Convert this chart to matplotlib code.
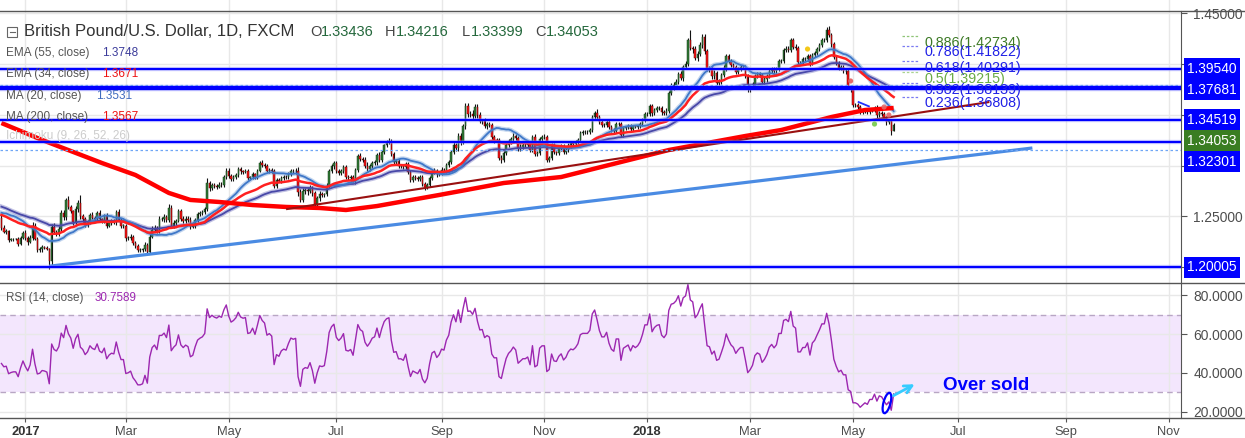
import numpy as np
import pandas as pd
import matplotlib
matplotlib.use("Agg")
import matplotlib.pyplot as plt
import matplotlib.transforms as mtransforms
from matplotlib.patches import Ellipse, Rectangle
from matplotlib.lines import Line2D

plt.rcParams['font.family'] = ['Liberation Sans', 'DejaVu Sans']

# ---------------- data ----------------
# hidden closes before the first visible bar (feed MA20 / RSI warm-up)
closes_before = [1.2475, 1.2370, 1.2455, 1.2480, 1.2385, 1.2475, 1.2500, 1.2585, 1.2590, 1.2730,
                 1.2680, 1.2610, 1.2580, 1.2560, 1.2660, 1.2730, 1.2580, 1.2420, 1.2485]

# daily closes, 2016-12-19 .. 2018-05-24 (weekdays)
closes = [
    1.2390, 1.2350, 1.2355, 1.2265, 1.2275, 1.2280, 1.2280, 1.2230, 1.2290, 1.2340,
    1.2290, 1.2250, 1.2290, 1.2410, 1.2280, 1.2170, 1.2175, 1.2195, 1.2190, 1.2180, 1.2060, 1.2400, 1.2345, 1.2330, 1.2375, 1.2535, 1.2495, 1.2665, 1.2590, 1.2550, 1.2450, 1.2570,
    1.2630, 1.2500, 1.2475, 1.2420, 1.2450, 1.2515, 1.2490, 1.2480, 1.2535, 1.2475, 1.2460, 1.2500, 1.2410, 1.2440, 1.2455, 1.2450, 1.2545, 1.2470, 1.2410, 1.2410,
    1.2285, 1.2290, 1.2300, 1.2240, 1.2210, 1.2170, 1.2170, 1.2175, 1.2215, 1.2150, 1.2300, 1.2370, 1.2390, 1.2360, 1.2475, 1.2475, 1.2495, 1.2470, 1.2580, 1.2410, 1.2440, 1.2460, 1.2550,
    1.2480, 1.2460, 1.2480, 1.2470, 1.2400, 1.2410, 1.2470, 1.2520, 1.2535, 1.2545, 1.2570, 1.2830, 1.2780, 1.2810, 1.2800, 1.2795, 1.2815, 1.2810, 1.2890, 1.2950,
    1.2900, 1.2870, 1.2885, 1.2910, 1.2965, 1.2945, 1.2940, 1.2945, 1.2880, 1.2885, 1.2915, 1.2890, 1.2950, 1.3030, 1.3010, 1.3000, 1.2950, 1.2960, 1.2950, 1.2805, 1.2860, 1.2850, 1.2880,
    1.2890, 1.2885, 1.2920, 1.2950, 1.2945, 1.2950, 1.2745, 1.2660, 1.2750, 1.2760, 1.2755, 1.2785, 1.2730, 1.2625, 1.2680, 1.2720, 1.2715, 1.2720, 1.2800, 1.2945, 1.3000, 1.3025,
    1.2950, 1.2930, 1.2950, 1.2985, 1.2885, 1.2880, 1.2890, 1.2855, 1.2960, 1.3100, 1.3070, 1.3060, 1.2995, 1.2970, 1.2995, 1.3030, 1.3040, 1.3110, 1.3060, 1.3135, 1.3200,
    1.3230, 1.3240, 1.3120, 1.3040, 1.3045, 1.2995, 1.2995, 1.2985, 1.3020, 1.2940, 1.2860, 1.2890, 1.2880, 1.2870, 1.2890, 1.2820, 1.2790, 1.2810, 1.2880, 1.2940, 1.2950, 1.2915, 1.2930,
    1.2960, 1.2955, 1.3010, 1.3040, 1.3135, 1.3200, 1.3170, 1.3290, 1.3230, 1.3395, 1.3590, 1.3505, 1.3510, 1.3490, 1.3580, 1.3500, 1.3440, 1.3445, 1.3390, 1.3410, 1.3400,
    1.3280, 1.3250, 1.3250, 1.3080, 1.3060, 1.3130, 1.3200, 1.3240, 1.3260, 1.3290, 1.3270, 1.3170, 1.3185, 1.3200, 1.3200, 1.3210, 1.3160, 1.3280, 1.3120, 1.3130, 1.3260, 1.3280,
    1.3280, 1.3060, 1.3075, 1.3200, 1.3135, 1.3130, 1.3170, 1.3190, 1.3140, 1.3160, 1.3200, 1.3220, 1.3215, 1.3230, 1.3255, 1.3320, 1.3330, 1.3330, 1.3330, 1.3350, 1.3480, 1.3520,
    1.3480, 1.3430, 1.3400, 1.3400, 1.3430, 1.3380, 1.3350, 1.3340, 1.3410, 1.3410, 1.3300, 1.3370, 1.3380, 1.3390, 1.3360, 1.3390, 1.3380, 1.3390, 1.3410, 1.3450, 1.3510,
    1.3510, 1.3590, 1.3520, 1.3550, 1.3565, 1.3570, 1.3530, 1.3520, 1.3540, 1.3720, 1.3790, 1.3800, 1.3830, 1.3900, 1.3860, 1.3970, 1.4000, 1.4240, 1.4160, 1.4150, 1.4060, 1.4100, 1.4190,
    1.4270, 1.4130, 1.3960, 1.3950, 1.3880, 1.3910, 1.3820, 1.3830, 1.3890, 1.3960, 1.4080, 1.4030, 1.3990, 1.3970, 1.3920, 1.3950, 1.3970, 1.3970, 1.3880, 1.3760,
    1.3780, 1.3810, 1.3880, 1.3900, 1.3890, 1.3830, 1.3850, 1.3880, 1.3930, 1.3950, 1.3930, 1.3950, 1.4030, 1.4030, 1.4140, 1.4150, 1.4140, 1.4240, 1.4170, 1.4160, 1.4020, 1.4020,
    1.4050, 1.4050, 1.4080, 1.4010, 1.4090, 1.4110, 1.4150, 1.4190, 1.4240, 1.4240, 1.4340, 1.4290, 1.4200, 1.4070, 1.4010, 1.3960, 1.3970, 1.3930, 1.3930, 1.3780, 1.3760,
    1.3600, 1.3600, 1.3580, 1.3530, 1.3540, 1.3550, 1.3530, 1.3550, 1.3550, 1.3570, 1.3500, 1.3520, 1.3510, 1.3470, 1.3430, 1.3440, 1.33436, 1.34053,
]

# wick length beyond the body, in pips
wick_up = [
    40, 25, 20, 15, 10, 8, 12, 15, 20, 18,
    30, 20, 25, 35, 30, 15, 20, 25, 15, 20, 10, 30, 40, 20, 30, 30, 25, 20, 41, 20, 15, 30,
    30, 77, 25, 20, 15, 20, 25, 15, 20, 25, 15, 20, 30, 15, 25, 20, 15, 30, 20, 15,
    20, 20, 25, 15, 20, 15, 20, 15, 30, 20, 30, 40, 30, 20, 30, 20, 25, 20, 45, 30, 25, 20, 25,
    25, 20, 20, 20, 25, 20, 20, 25, 15, 15, 20, 45, 20, 20, 20, 25, 20, 25, 20, 25,
    30, 20, 25, 20, 25, 20, 15, 20, 20, 15, 20, 15, 20, 20, 25, 20, 20, 15, 20, 15, 20, 15, 20,
    20, 15, 20, 20, 20, 30, 40, 30, 30, 20, 20, 25, 20, 20, 25, 30, 20, 15, 30, 25, 20, 25,
    25, 20, 15, 20, 20, 20, 20, 15, 20, 20, 30, 20, 25, 40, 20, 20, 20, 20, 25, 20, 15,
    25, 30, 20, 20, 20, 25, 20, 20, 20, 20, 20, 15, 20, 15, 20, 20, 15, 20, 20, 20, 25, 20, 20,
    25, 20, 20, 20, 20, 30, 20, 30, 30, 20, 25, 30, 30, 40, 30, 30, 25, 20, 25, 20, 20,
    25, 20, 20, 20, 30, 20, 25, 20, 20, 30, 20, 20, 25, 25, 20, 25, 20, 20, 30, 20, 20, 20,
    30, 25, 20, 20, 20, 15, 20, 20, 20, 20, 20, 20, 20, 20, 20, 20, 20, 20, 20, 20, 20, 15,
    40, 20, 20, 20, 20, 20, 20, 20, 20, 25, 20, 20, 15, 20, 20, 15, 10, 15, 20, 20, 20,
    15, 20, 20, 20, 20, 20, 20, 20, 30, 20, 25, 30, 25, 20, 30, 20, 30, 20, 100, 20, 25, 30, 30,
    30, 25, 20, 25, 30, 30, 20, 20, 20, 30, 25, 20, 20, 20, 25, 20, 20, 25, 20, 20,
    20, 20, 20, 20, 20, 20, 20, 20, 20, 20, 20, 20, 20, 25, 20, 25, 25, 20, 20, 25, 20, 15,
    20, 20, 20, 20, 20, 20, 20, 20, 20, 20, 30, 36, 20, 20, 20, 20, 20, 20, 20, 20, 20,
    30, 20, 20, 20, 20, 20, 20, 20, 20, 20, 25, 20, 20, 20, 20, 20, 25, 16,
]
wick_dn = [
    20, 15, 25, 18, 10, 12, 15, 20, 12, 14,
    20, 30, 15, 20, 10, 20, 20, 25, 15, 15, 75, 45, 20, 25, 20, 20, 25, 30, 15, 20, 30, 25,
    30, 20, 30, 25, 20, 25, 15, 20, 15, 30, 25, 20, 20, 15, 20, 25, 30, 15, 20, 25,
    30, 20, 25, 20, 20, 20, 15, 20, 15, 30, 20, 15, 20, 20, 20, 15, 25, 20, 20, 25, 20, 20, 15,
    20, 20, 25, 20, 25, 15, 20, 20, 15, 20, 20, 20, 25, 20, 15, 20, 15, 15, 20, 20,
    20, 25, 20, 15, 20, 25, 20, 15, 25, 20, 15, 20, 20, 15, 20, 20, 15, 20, 20, 20, 20, 15, 20,
    20, 20, 15, 20, 20, 25, 45, 20, 20, 25, 45, 20, 25, 20, 20, 25, 20, 20, 15, 20, 20, 30,
    20, 20, 25, 20, 20, 20, 30, 20, 30, 20, 20, 25, 20, 20, 20, 20, 20, 30, 20, 20, 20,
    20, 20, 25, 20, 20, 20, 20, 20, 20, 25, 25, 20, 20, 20, 20, 20, 25, 20, 20, 20, 20, 25, 20,
    20, 20, 25, 20, 25, 20, 25, 20, 25, 20, 30, 25, 20, 30, 20, 30, 20, 25, 20, 25, 20,
    20, 25, 20, 25, 35, 20, 20, 20, 25, 20, 20, 25, 20, 20, 20, 20, 20, 20, 20, 25, 20, 25,
    20, 25, 25, 20, 20, 20, 20, 20, 20, 20, 20, 25, 20, 20, 20, 20, 20, 20, 20, 20, 20, 25,
    25, 20, 20, 20, 20, 20, 20, 25, 20, 20, 20, 20, 20, 20, 20, 20, 10, 15, 20, 20, 20,
    15, 20, 25, 20, 20, 20, 30, 20, 20, 20, 20, 40, 20, 25, 20, 25, 20, 20, 20, 40, 20, 25, 20,
    30, 30, 30, 25, 30, 30, 25, 20, 25, 20, 30, 20, 20, 20, 20, 20, 20, 20, 20, 30,
    30, 20, 20, 20, 20, 25, 20, 20, 20, 20, 20, 20, 20, 20, 20, 20, 20, 20, 20, 20, 20, 15,
    20, 20, 20, 25, 20, 20, 20, 20, 20, 20, 20, 20, 30, 20, 20, 20, 20, 20, 25, 20, 30,
    20, 20, 20, 25, 20, 20, 25, 20, 20, 20, 25, 20, 20, 20, 25, 20, 40, 3.7,
]

# EMA values at the first visible bar
ema55_start = 1.2597
ema34_start = 1.2515

# MA(200)
ma200_dates = ['2016-12-19', '2017-01-11', '2017-02-15', '2017-03-07', '2017-03-27', '2017-04-07',
               '2017-04-25', '2017-05-15', '2017-06-02', '2017-06-22', '2017-07-07', '2017-07-26',
               '2017-08-31', '2017-10-09', '2017-11-10', '2018-01-12', '2018-02-27', '2018-03-20',
               '2018-04-18', '2018-05-08', '2018-05-24']
ma200_vals = [1.3421, 1.3254, 1.3027, 1.2909, 1.2732, 1.2663, 1.2643, 1.2613, 1.2594, 1.2584,
              1.2564, 1.2603, 1.2712, 1.2830, 1.2889, 1.3155, 1.3293, 1.3352, 1.3480, 1.3549, 1.3569]

# horizontal support / resistance lines
levels = [1.39540, 1.37681, 1.34519, 1.32301, 1.20005]
dotted_levels = [1.3795, 1.3155]

# trend lines (date, price)
trend_blue = [('2017-01-16', 1.2010), ('2018-08-14', 1.3175)]
trend_red = [('2017-06-02', 1.2572), ('2018-07-19', 1.3628)]
short_blue = [('2018-05-03', 1.3631), ('2018-05-10', 1.3582)]

# small markers
dot_dates = ['2018-04-04', '2018-04-30', '2018-05-18', '2018-05-22', '2018-05-14']
dot_prices = [1.4150, 1.3835, 1.3579, 1.3500, 1.3411]
dot_colors = ['#f2c200', '#e25a5a', '#e36a6a', '#e36a6a', '#74c94a']

# fibonacci retracement
fib_ratios = [0.886, 0.786, 0.618, 0.5, 0.382, 0.236]
fib_prices = [1.42734, 1.41822, 1.40291, 1.39215, 1.38139, 1.36808]

# price-axis ticks; the ones covered by tags show no text
price_ticks = [1.20, 1.25, 1.30, 1.35, 1.40, 1.45]
price_tick_text = ['', '1.25000', '', '', '', '1.45000']

ohlc_last = ['1.33436', '1.34216', '1.33399', '1.34053']
legend_names = ['EMA (55, close)', 'EMA (34, close)', 'MA (20, close)', 'MA (200, close)']
legend_values = ['1.3748', '1.3671', '1.3531', '1.3567']
rsi_last = '30.7589'

# ---------------- derived series ----------------
n = len(closes)
assert len(wick_up) == n and len(wick_dn) == n, (n, len(wick_up), len(wick_dn))
c = np.array(closes)
o = np.r_[closes_before[-1], c[:-1]]
hi = np.maximum(o, c) + np.array(wick_up) / 1e4
lo = np.minimum(o, c) - np.array(wick_dn) / 1e4
x = np.arange(n)

axis_dates = pd.bdate_range('2016-12-19', '2018-12-31')
pos = {d: i for i, d in enumerate(axis_dates)}


def bar(d):
    return pos[pd.Timestamp(d)]


def ema(values, span, seed):
    a = 2.0 / (span + 1)
    out = [seed]
    for v in values[1:]:
        out.append(a * v + (1 - a) * out[-1])
    return np.array(out)


ema55 = ema(c, 55, ema55_start)
ema34 = ema(c, 34, ema34_start)
allc = np.r_[closes_before, c]
ma20 = pd.Series(allc).rolling(20).mean().values[len(closes_before):]

d = np.diff(allc)
g = np.clip(d, 0, None)
l = np.clip(-d, 0, None)
rsi_all = np.full(len(allc), np.nan)
ag, al = g[:14].mean(), l[:14].mean()
rsi_all[14] = 100 - 100 / (1 + ag / al)
for k in range(14, len(d)):
    ag = (ag * 13 + g[k]) / 14
    al = (al * 13 + l[k]) / 14
    rsi_all[k + 1] = 100 - 100 / (1 + ag / al)
rsi = rsi_all[len(closes_before):]

# ---------------- layout ----------------
W, H = 1245, 438
BAR_PX = 2.392
X0 = -0.6
X1 = X0 + 1181 / BAR_PX
GRID = '#e8e8e8'
AXC = '#555555'


def fx(px):
    return px / W


def fy(py):
    return 1 - py / H


fig = plt.figure(figsize=(W / 100, H / 100), dpi=100)
ax = fig.add_axes([0, fy(283), fx(1181), fy(11) - fy(283)])
ax2 = fig.add_axes([0, fy(418), fx(1181), fy(283) - fy(418)])
top = fig.add_axes([0, fy(11), fx(1181), 11 / H])

months = pd.date_range('2017-01-01', '2018-11-01', freq='2MS')
ticks = [axis_dates.searchsorted(m) for m in months]
tick_labels = [str(m.year) if m.month == 1 else m.strftime('%b') for m in months]

for a in (ax, ax2, top):
    a.set_xlim(X0, X1)
    a.set_xticks(ticks)
    a.set_axisbelow(True)
    a.grid(True, color=GRID, lw=1)
    for s in ('left', 'top', 'bottom'):
        a.spines[s].set_visible(False)
    a.spines['right'].set_color(AXC)

top.set_yticks([])
top.tick_params(length=0, labelbottom=False)
top.spines['right'].set_visible(False)

# ---- price panel ----
ax.set_ylim(1.18448, 1.45246)
ax.set_yticks(price_ticks)
ax.set_yticklabels(price_tick_text)
ax.tick_params(axis='x', bottom=False, labelbottom=False)
ax.tick_params(axis='y', left=False, labelleft=False, right=True, labelright=True,
               length=4, color=AXC, labelcolor='#4d4d4d', labelsize=9.9, pad=5)

up = c >= o
body = np.maximum(np.abs(c - o), 0.00025)
ax.vlines(x, lo, hi, color='#111111', lw=0.8, zorder=3)
ax.bar(x[up], body[up], bottom=o[up], width=0.62, color='#2f7a34',
       edgecolor='#173b1a', lw=0.35, zorder=4)
ax.bar(x[~up], body[~up], bottom=c[~up], width=0.62, color='#ff1414',
       edgecolor='#5a0000', lw=0.35, zorder=4)

ma200_x = [bar(dd) for dd in ma200_dates]
ax.plot(ma200_x, ma200_vals, color='#ff0000', lw=3.2, zorder=6, solid_capstyle='butt')
ax.plot(x, ema55, color='#5050b0', lw=3.2, alpha=0.35, zorder=5)
ax.plot(x, ema55, color='#4848a8', lw=1.3, zorder=5)
ax.plot(x, ma20, color='#4f86cf', lw=3.2, alpha=0.35, zorder=5)
ax.plot(x, ma20, color='#3f78c8', lw=1.3, zorder=5)
ax.plot(x, ema34, color='#ff2020', lw=1.8, zorder=5)

for (d0, p0), (d1, p1), col, lw in [(trend_blue[0], trend_blue[1], '#4a8be3', 2.3),
                                    (trend_red[0], trend_red[1], '#9a1010', 1.5),
                                    (short_blue[0], short_blue[1], '#2030ff', 1.3)]:
    ax.plot([bar(d0), bar(d1)], [p0, p1], color=col, lw=lw, zorder=7, solid_capstyle='butt')

LEVEL_LW = [1.5, 3.0, 1.5, 1.5, 1.5]
for lv, lw in zip(levels, LEVEL_LW):
    ax.axhline(lv, color='#8080ff', lw=lw + 1.6, alpha=0.45, zorder=7)
    ax.axhline(lv, color='#0000ff', lw=lw, zorder=8)
for lv in dotted_levels:
    ax.axhline(lv, color='#6fa6f5', lw=0.9, ls=(0, (2, 2)), zorder=7)

ax.scatter([bar(dd) for dd in dot_dates], dot_prices, s=14, c=dot_colors, zorder=9,
           edgecolors='none', alpha=0.9)

# fibonacci labels
last = n - 1
FIB_TXT = ['#3d7a26', '#2020e6', '#2020e6', '#6aab45', '#2020e6', '#2020e6']
FIB_DASH = ['#8fc476', '#7a7af2', '#7a7af2', '#a9d390', '#7a7af2', '#7a7af2']
for r, p, tc, dc in zip(fib_ratios, fib_prices, FIB_TXT, FIB_DASH):
    ax.plot([last + 3.5, last + 10.6], [p, p], color=dc, lw=0.9, ls=(0, (2, 1.5)), zorder=8)
    ax.text(last + 12.7, p + 0.0004, '%s(%.5f)' % (r, p), color=tc, fontsize=10.3,
            va='top', ha='left', zorder=9)

# price axis tags (pushed apart like the platform does)
tags = [(lv, '#0000ff') for lv in levels] + [(c[-1], '#3a7d22')]
tags.sort(key=lambda t: -t[0])
step = 21 * (1.45246 - 1.18448) / 272
trans = mtransforms.blended_transform_factory(fig.transFigure, ax.transData)
prev = None
for p, col in tags:
    yy = p if prev is None else min(p, prev - step)
    prev = yy
    ax.text(fx(1187), yy, '%.5f' % p, transform=trans, color='white', fontsize=9.9,
            va='center', ha='left', zorder=30, clip_on=False,
            bbox=dict(boxstyle='square,pad=0.25', fc=col, ec='none'))

# ---- RSI panel ----
ax2.set_ylim(16.9, 86.2)
ax2.set_yticks([20, 40, 60, 80])
ax2.set_yticklabels(['%.4f' % v for v in [20, 40, 60, 80]])
ax2.tick_params(axis='y', left=False, labelleft=False, right=True, labelright=True,
                length=4, color=AXC, labelcolor='#4d4d4d', labelsize=9.9, pad=5)
ax2.set_xticklabels(tick_labels)
ax2.tick_params(axis='x', length=3, color=AXC, labelcolor='#4d4d4d', labelsize=9.3, pad=3)
for lbl, m in zip(ax2.get_xticklabels(), months):
    if m.month == 1:
        lbl.set_fontweight('bold')
        lbl.set_color('#333333')
ax2.axhspan(30, 70, color='#f3e6fd', zorder=0.2, lw=0)
for lv in (30, 70):
    ax2.axhline(lv, color='#b8a6c4', lw=1, ls=(0, (4, 3)), zorder=1)
ax2.plot(x, rsi, color='#9c27b0', lw=1.0, zorder=5)

ell_px = ax2.transData.transform((last - 2.8, 24.6))
ell = Ellipse((0, 0), 7, 21, angle=-15, fill=False, ec='#0000ff', lw=1.6,
              transform=mtransforms.Affine2D().translate(*ell_px), zorder=8)
ax2.add_artist(ell)
ax2.annotate('', xy=(last + 9.8, 34.9), xytext=(last - 1.1, 27.7),
             arrowprops=dict(arrowstyle='->', color='#36ccff', lw=2, mutation_scale=14), zorder=8)
ax2.text(last + 38.6, 33.8, 'Over sold', color='#0000ff', fontsize=13.5, fontweight='bold',
         ha='center', va='center', zorder=9)

# ---- frame lines ----
for py in (11, 283, 418):
    fig.add_artist(Line2D([0, 1], [fy(py), fy(py)], transform=fig.transFigure, color=AXC, lw=1))

# ---- legends ----
fig.add_artist(Rectangle((fx(7), fy(37)), fx(10), 10 / H, transform=fig.transFigure,
                         fill=False, ec='#666666', lw=0.8))
fig.add_artist(Line2D([fx(9.5), fx(14.5)], [fy(32), fy(32)], transform=fig.transFigure,
                      color='#666666', lw=0.8))
fig.text(fx(24), fy(32), 'British Pound/U.S. Dollar, 1D, FXCM', fontsize=12, color='#333333',
         va='center', ha='left')
for lx, nx, letter, val in zip([310, 385, 462, 535], [321, 396, 471, 546], 'OHLC', ohlc_last):
    fig.text(fx(lx), fy(32), letter, fontsize=10.5, color='#444444', va='center')
    fig.text(fx(nx), fy(32), val, fontsize=10.5, color='#24683c', va='center')

VAL_COL = ['#3b3b9a', '#ee1111', '#3f6bbf', '#ee1111']
VAL_X = [102, 102, 96, 102]
for i, (name, val) in enumerate(zip(legend_names, legend_values)):
    yy = [53, 74, 96, 117][i]
    fig.text(fx(6), fy(yy), name, fontsize=8.5, color='#555555', va='center')
    fig.text(fx(VAL_X[i]), fy(yy), val, fontsize=8.5, color=VAL_COL[i], va='center')
fig.text(fx(6), fy(136), 'Ichimoku (9, 26, 52, 26)', fontsize=8.5, color='#cccccc', va='center')
fig.text(fx(6), fy(298), 'RSI (14, close)', fontsize=8.4, color='#555555', va='center')
fig.text(fx(95), fy(298), rsi_last, fontsize=8.4, color='#9c27b0', va='center')

fig.savefig('out.png', dpi=100)
